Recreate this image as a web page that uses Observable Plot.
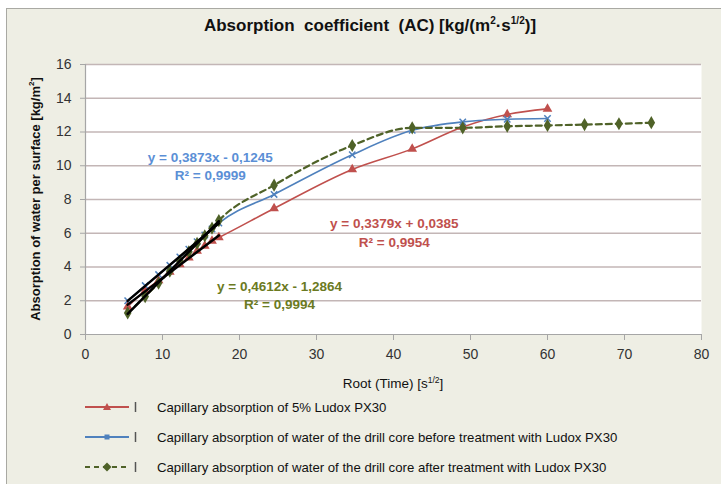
<!DOCTYPE html>
<html>
<head>
<meta charset="utf-8">
<script src="https://cdn.jsdelivr.net/npm/d3@7"></script>
<script src="https://cdn.jsdelivr.net/npm/@observablehq/plot@0.6"></script>
<style>
  html, body { margin: 0; padding: 0; background: #ffffff; }
  #page { position: relative; width: 721px; height: 484px; overflow: hidden; background: #ffffff; font-family: "Liberation Sans", Arial, sans-serif; }
  #panel { position: absolute; left: 6px; top: 8px; width: 730px; height: 490px; background: #eeeee4; border: 1px solid #a9a9a3; box-sizing: border-box; }
  #title { position: absolute; left: 0; width: 740px; top: 15px; text-align: center; font-weight: bold; font-size: 17px; color: #111; }
  #title sup { font-size: 10px; }
  #chart { position: absolute; left: 0; top: 44px; }
  #ylab { position: absolute; left: 35px; top: 199px; transform: translate(-50%, -50%) rotate(-90deg); white-space: nowrap; font-weight: bold; font-size: 13px; color: #111; }
  #ylab sup { font-size: 8px; }
  #xlab { position: absolute; left: 393px; top: 383px; transform: translate(-50%, -50%); white-space: nowrap; font-size: 13.5px; color: #111; }
  #xlab sup { font-size: 8.5px; }
  .leg { position: absolute; left: 85px; height: 16px; display: flex; align-items: center; white-space: nowrap; }
  .leg span { margin-left: 12px; font-size: 13.2px; color: #111; }
</style>
</head>
<body>
<div id="page">
  <div id="panel"></div>
  <div id="title">Absorption&nbsp; coefficient&nbsp; (AC) [kg/(m<sup>2</sup>·s<sup>1/2</sup>)]</div>
  <div id="chart"></div>
  <div id="ylab">Absorption of water per surface [kg/m<sup>2</sup>]</div>
  <div id="xlab">Root (Time) [s<sup>1/2</sup>]</div>
  <div id="legend"></div>
</div>
<script>
// Root of time [s^1/2] at each measurement
const rootTime = [5.48, 7.75, 9.49, 10.95, 12.25, 13.42, 14.49, 15.49, 16.43, 17.32, 24.49, 34.64, 42.43, 48.99, 54.77, 60.00, 64.81, 69.28, 73.48];

// Series values [kg/m2]
const ludoxValues  = [1.65, 2.6, 3.2, 3.7, 4.15, 4.55, 4.95, 5.25, 5.55, 5.75, 7.47, 9.78, 11.0, 12.3, 13.04, 13.37];
const beforeValues = [2.0, 2.9, 3.55, 4.1, 4.6, 5.05, 5.5, 5.9, 6.25, 6.6, 8.3, 10.65, 12.1, 12.6, 12.75, 12.8];
const afterValues  = [1.28, 2.25, 3.05, 3.75, 4.35, 4.9, 5.4, 5.85, 6.3, 6.75, 8.85, 11.2, 12.25, 12.25, 12.34, 12.39, 12.44, 12.49, 12.55];

const seriesNames = [
  "Capillary absorption of 5% Ludox PX30",
  "Capillary absorption of water of the drill core before treatment with Ludox PX30",
  "Capillary absorption of water of the drill core after treatment with Ludox PX30"
];
const seriesColors = ["#c0504d", "#4f81bd", "#4f6228"];
const textColors = ["#c0504d", "#5b8fd6", "#6b7a22"];

// Trend equations shown on the chart
const eqLabels = ["y = 0,3379x + 0,0385", "y = 0,3873x - 0,1245", "y = 0,4612x - 1,2864"];
const r2Labels = ["R² = 0,9954", "R² = 0,9999", "R² = 0,9994"];

// Linear-fit range: first 10 points
const fitCount = 10;

const xTicks = [0, 10, 20, 30, 40, 50, 60, 70, 80];
const yTicks = [0, 2, 4, 6, 8, 10, 12, 14, 16];

const toRows = (vals) => vals.map((v, i) => ({x: rootTime[i], y: v}));
const red = toRows(ludoxValues);
const blue = toRows(beforeValues);
const green = toRows(afterValues);

const eqFont = {fontFamily: "Liberation Sans", fontWeight: "bold", fontSize: 13.5};

const chart = Plot.plot({
  width: 721,
  height: 360,
  marginLeft: 85,
  marginRight: 20,
  marginTop: 20,
  marginBottom: 70,
  style: {background: "transparent", fontFamily: "Liberation Sans, Arial, sans-serif", fontSize: "14px", color: "#333"},
  x: {domain: [0, 80], ticks: xTicks, label: null},
  y: {domain: [0, 16], ticks: yTicks, label: null},
  marks: [
    Plot.frame({fill: "white", stroke: null}),
    Plot.gridY(yTicks.filter(d => d > 0), {stroke: "#c3b6b6", strokeOpacity: 1, strokeWidth: 1.5}),
    Plot.ruleY([0], {stroke: "#a6a6a6", strokeWidth: 1.2}),
    Plot.ruleX([0], {stroke: "#a6a6a6", strokeWidth: 1.2}),
    Plot.axisX({ticks: xTicks, tickSize: 6, tickPadding: 9, stroke: "#a6a6a6", fill: "#333", label: null}),
    Plot.axisY({ticks: yTicks, tickSize: 5, tickPadding: 9, stroke: "#a6a6a6", fill: "#333", label: null}),
    // series lines
    Plot.line(red, {x: "x", y: "y", stroke: seriesColors[0], strokeWidth: 1.6, curve: "monotone-x"}),
    Plot.line(blue, {x: "x", y: "y", stroke: seriesColors[1], strokeWidth: 1.6, curve: "monotone-x"}),
    Plot.line(green, {x: "x", y: "y", stroke: seriesColors[2], strokeWidth: 2.2, strokeDasharray: "6,4", curve: "monotone-x"}),
    // markers
    Plot.dot(red, {x: "x", y: "y", symbol: "triangle", r: 3.6, fill: seriesColors[0], stroke: null}),
    Plot.dot(blue, {x: "x", y: "y", symbol: "times", r: 3, stroke: seriesColors[1], strokeWidth: 1.5}),
    Plot.dot(green, {x: "x", y: "y", symbol: "diamond", r: 4, fill: seriesColors[2], stroke: null}),
    // linear trendlines over the early range
    Plot.linearRegressionY(red.slice(0, fitCount), {x: "x", y: "y", stroke: "black", strokeWidth: 2.5, ci: 0}),
    Plot.linearRegressionY(blue.slice(0, fitCount), {x: "x", y: "y", stroke: "black", strokeWidth: 2.5, ci: 0}),
    Plot.linearRegressionY(green.slice(0, fitCount), {x: "x", y: "y", stroke: "black", strokeWidth: 2.5, ci: 0}),
    // equations
    Plot.text([eqLabels[1]], {x: 16.2, y: 10.5, text: d => d, fill: textColors[1], ...eqFont}),
    Plot.text([r2Labels[1]], {x: 16.2, y: 9.42, text: d => d, fill: textColors[1], ...eqFont}),
    Plot.text([eqLabels[0]], {x: 40.1, y: 6.58, text: d => d, fill: textColors[0], ...eqFont}),
    Plot.text([r2Labels[0]], {x: 40.1, y: 5.45, text: d => d, fill: textColors[0], ...eqFont}),
    Plot.text([eqLabels[2]], {x: 25.2, y: 2.84, text: d => d, fill: textColors[2], ...eqFont}),
    Plot.text([r2Labels[2]], {x: 25.2, y: 1.78, text: d => d, fill: textColors[2], ...eqFont})
  ]
});
document.getElementById("chart").appendChild(chart);

// Legend below the chart
const legendTops = [399, 429, 459];
const legend = document.getElementById("legend");
seriesNames.forEach((name, i) => {
  const row = document.createElement("div");
  row.className = "leg";
  row.style.top = legendTops[i] + "px";
  const ns = "http://www.w3.org/2000/svg";
  const svg = document.createElementNS(ns, "svg");
  svg.setAttribute("width", 60);
  svg.setAttribute("height", 16);
  const ln = document.createElementNS(ns, "line");
  ln.setAttribute("x1", 0); ln.setAttribute("x2", 44);
  ln.setAttribute("y1", 8); ln.setAttribute("y2", 8);
  ln.setAttribute("stroke", seriesColors[i]);
  ln.setAttribute("stroke-width", i === 2 ? 2.2 : 1.8);
  if (i === 2) ln.setAttribute("stroke-dasharray", "5,4");
  svg.appendChild(ln);
  let mk;
  if (i === 0) {
    mk = document.createElementNS(ns, "path");
    mk.setAttribute("d", "M22,4 L26,11 L18,11 Z");
  } else if (i === 1) {
    mk = document.createElementNS(ns, "rect");
    mk.setAttribute("x", 19.5); mk.setAttribute("y", 5.5);
    mk.setAttribute("width", 5); mk.setAttribute("height", 5);
  } else {
    mk = document.createElementNS(ns, "path");
    mk.setAttribute("d", "M22,3.5 L26.5,8 L22,12.5 L17.5,8 Z");
  }
  mk.setAttribute("fill", seriesColors[i]);
  svg.appendChild(mk);
  const bar = document.createElementNS(ns, "line");
  bar.setAttribute("x1", 50.5); bar.setAttribute("x2", 50.5);
  bar.setAttribute("y1", 3); bar.setAttribute("y2", 13);
  bar.setAttribute("stroke", "#555");
  bar.setAttribute("stroke-width", 1.5);
  svg.appendChild(bar);
  row.appendChild(svg);
  const sp = document.createElement("span");
  sp.textContent = name;
  row.appendChild(sp);
  legend.appendChild(row);
});
</script>
</body>
</html>
